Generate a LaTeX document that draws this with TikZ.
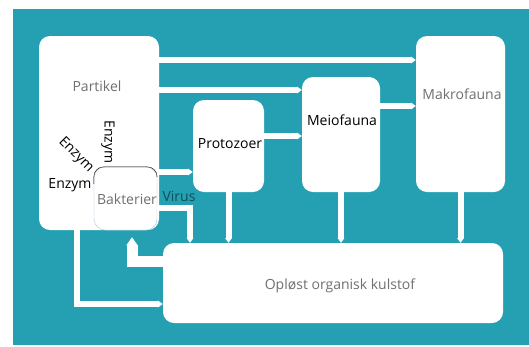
\documentclass[tikz,border=0pt]{standalone}
\usepackage{fontspec}
\setmainfont{Open Sans}
\usetikzlibrary{arrows.meta,positioning,calc}

\definecolor{sea}{RGB}{36,160,178}
\definecolor{labelgray}{RGB}{112,112,112}
\definecolor{virusteal}{RGB}{16,78,90}
\definecolor{rim}{RGB}{170,196,222}

\tikzset{
  box/.style={fill=white,rounded corners=11pt,inner sep=0pt},
  boxtext/.style={font=\fontsize{14}{16}\selectfont,inner sep=0pt},
  flow/.style={draw=white,line width=6pt,-{Triangle[width=0pt 1.1,length=0pt 0.8]}},
  bigflow/.style={draw=white,line width=11pt,-{Triangle[width=0pt 1,length=0pt 0.75]}},
}

\begin{document}
\begin{tikzpicture}[x=1pt,y=-1pt]
  \useasboundingbox (0,0) rectangle (529,346);
  % ===== Background =====
  \fill[sea] (13,9) rectangle (529,345);

  % ===== Boxes =====
  \node[box,minimum width=120pt,minimum height=194pt] (part) at (99,133) {};
  \node[box,minimum width=71pt,minimum height=92pt] (proto) at (228.5,146) {};
  \node[box,minimum width=78pt,minimum height=115pt] (meio) at (341,134.5) {};
  \node[box,minimum width=89pt,minimum height=156pt] (makro) at (460.5,114) {};
  \node[box,minimum width=340pt,minimum height=80pt] (dom) at (333,283) {};

  % --- Connectors (white bands) ---
  \draw[flow] (part.east |- 0,60) -- (makro.west |- 0,60);
  \draw[flow] (part.east |- 0,90) -- (meio.west |- 0,90);
  \draw[flow] (meio.east |- 0,106) -- (makro.west |- 0,106);
  \draw[flow] (proto.east |- 0,136) -- (meio.west |- 0,136);
  \draw[flow] (proto.south) -- (proto.south |- dom.north);
  \draw[flow] (meio.south) -- (meio.south |- dom.north);
  \draw[flow] (makro.south) -- (makro.south |- dom.north);
  \draw[flow] (part.south -| 77,0) |- (dom.west |- 0,304);

  % ===== Bakterier (inside Partikel) =====
  \node[box,draw=rim,thin,minimum width=63pt,minimum height=63pt] (bakt) at (125.5,198.5) {};
  \draw[thin,rounded corners=10pt] (bakt.west |- 0,184) |- (bakt.north east) -- (bakt.east |- 0,176);
  \draw[flow] (bakt.east |- 0,172) -- (proto.west |- 0,172);
  \draw[flow] (bakt.east |- 0,208) -| (dom.north -| 190,0);
  \draw[bigflow] (dom.west |- 0,261) -| ([yshift=-7pt]bakt.south -| 132,0);

  % --- Labels ---
  \node[boxtext,labelgray] (partlbl) at (97,86) {Partikel};
  \node[boxtext] (protolbl) at (230,144) {Protozoer};
  \node[boxtext] (meiolbl) at (342,120) {Meiofauna};
  \node[boxtext,labelgray] (makrolbl) at (462,94) {Makrofauna};
  \node[boxtext,labelgray] (baktlbl) at (127,199) {Bakterier};
  \node[boxtext,labelgray] (domlbl) at (340,286) {Opløst organisk kulstof};
  \node[boxtext,virusteal] (viruslbl) at (179,196) {Virus};

  % --- Enzym ---
  \node[boxtext] (enzyma) at (70,185) {Enzym};
  \node[boxtext,rotate=-45] (enzymb) at (76,155) {Enzym};
  \node[boxtext,rotate=-90] (enzymc) at (108,142) {Enzym};
\end{tikzpicture}
\end{document}
